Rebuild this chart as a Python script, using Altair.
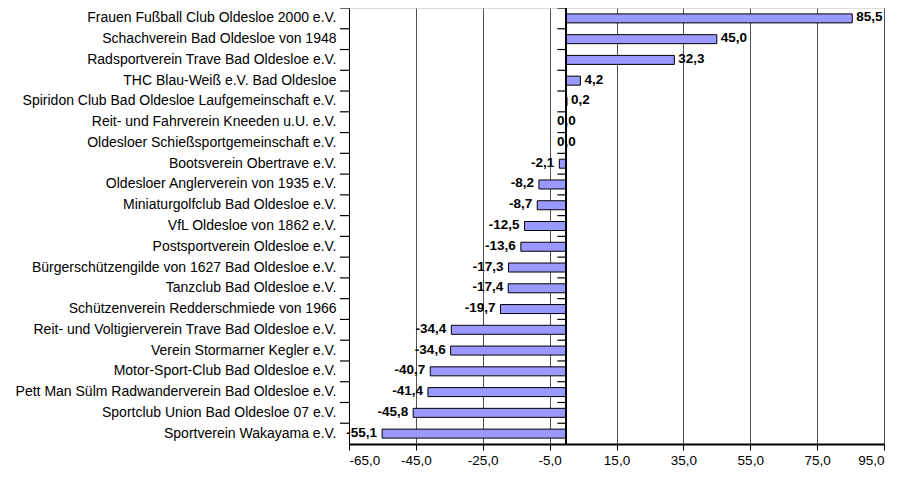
import altair as alt
import pandas as pd

names = [
    "Frauen Fußball Club Oldesloe 2000 e.V.",
    "Schachverein Bad Oldesloe von 1948",
    "Radsportverein Trave Bad Oldesloe e.V.",
    "THC Blau-Weiß e.V. Bad Oldesloe",
    "Spiridon Club Bad Oldesloe Laufgemeinschaft e.V.",
    "Reit- und Fahrverein Kneeden u.U. e.V.",
    "Oldesloer Schießsportgemeinschaft e.V.",
    "Bootsverein Obertrave e.V.",
    "Oldesloer Anglerverein von 1935 e.V.",
    "Miniaturgolfclub Bad Oldesloe e.V.",
    "VfL Oldesloe von 1862 e.V.",
    "Postsportverein Oldesloe e.V.",
    "Bürgerschützengilde von 1627 Bad Oldesloe e.V.",
    "Tanzclub Bad Oldesloe e.V.",
    "Schützenverein Redderschmiede von 1966",
    "Reit- und Voltigierverein Trave Bad Oldesloe e.V.",
    "Verein Stormarner Kegler e.V.",
    "Motor-Sport-Club Bad Oldesloe e.V.",
    "Pett Man Sülm Radwanderverein Bad Oldesloe e.V.",
    "Sportclub Union Bad Oldesloe 07 e.V.",
    "Sportverein Wakayama e.V.",
]
values = [85.5, 45.0, 32.3, 4.2, 0.2, 0.0, 0.0, -2.1, -8.2, -8.7, -12.5,
          -13.6, -17.3, -17.4, -19.7, -34.4, -34.6, -40.7, -41.4, -45.8, -55.1]
x_ticks = [-65, -45, -25, -5, 15, 35, 55, 75, 95]

labels = [f"{v:.1f}".replace(".", ",") for v in values]
df = pd.DataFrame({"name": names, "value": values, "label": labels})

W, H = 535, 436
FONT = "Liberation Sans"
XMIN, XMAX = -65, 95
TICK_UNITS = 9 * (XMAX - XMIN) / W  # tick length of ~9px expressed on the x scale

xscale = alt.Scale(domain=[XMIN, XMAX], nice=False, zero=False)
yscale = alt.Scale(paddingInner=0, paddingOuter=0)

x_axis = alt.Axis(
    values=x_ticks,
    labelExpr="(datum.value < 0 ? '-' : '') + replace(format(abs(datum.value), '.1f'), '.', ',')",
    grid=True, gridColor="#505050", gridWidth=1,
    domainColor="black", domainWidth=2,
    tickColor="black", tickSize=6, labelPadding=3,
    labelFont=FONT, labelFontSize=13.5, labelColor="black", title=None,
)
x_enc = alt.X("value:Q", scale=xscale, axis=x_axis)

y_axis = alt.Axis(
    title=None, orient="left", ticks=False, domain=True,
    domainColor="black", labelPadding=13, labelFont=FONT, labelFontSize=14,
    labelColor="black", labelLimit=400, grid=False,
)

base = alt.Chart(df)

bars = base.mark_bar(size=9, color="#9999FF", stroke="black", strokeWidth=1).encode(
    x=x_enc,
    y=alt.Y("name:N", sort=names, scale=yscale, axis=y_axis),
)

y_edge = alt.Y("name:N", sort=names, scale=yscale, axis=y_axis, bandPosition=0)

zero_ticks = base.mark_rule(color="black", strokeWidth=1.2).encode(
    x=alt.X(datum=0, scale=xscale, axis=x_axis),
    x2=alt.datum(-TICK_UNITS),
    y=y_edge,
)
left_ticks = base.mark_rule(color="black", strokeWidth=1.2).encode(
    x=alt.X(datum=XMIN, scale=xscale, axis=x_axis),
    x2=alt.datum(XMIN - TICK_UNITS),
    y=y_edge,
)
zero_line = base.mark_rule(color="black", strokeWidth=1).encode(
    x=alt.X(datum=0, scale=xscale, axis=x_axis),
)

txt_style = dict(fontWeight="bold", fontSize=13.5, font=FONT, baseline="middle", color="black", dy=-1)
y_txt = alt.Y("name:N", sort=names, scale=yscale, axis=y_axis)

pos = base.transform_filter("datum.value > 0").mark_text(align="left", dx=4, **txt_style).encode(
    x=x_enc, y=y_txt, text="label:N",
)
neg = base.transform_filter("datum.value < 0").mark_text(align="right", dx=-5, **txt_style).encode(
    x=x_enc, y=y_txt, text="label:N",
)
zer = base.transform_filter("datum.value == 0").mark_text(align="center", dx=0, **txt_style).encode(
    x=x_enc, y=y_txt, text="label:N",
)

chart = alt.layer(bars, zero_line, zero_ticks, left_ticks, pos, neg, zer).properties(
    width=W, height=H,
    autosize=alt.AutoSizeParams(type="none"),
    padding={"left": 341, "top": 0, "right": 11, "bottom": 25},
).configure_view(stroke="#808080", strokeWidth=1).configure(background="white")

chart.save("out.html", embed_options={"renderer": "svg", "actions": False})
